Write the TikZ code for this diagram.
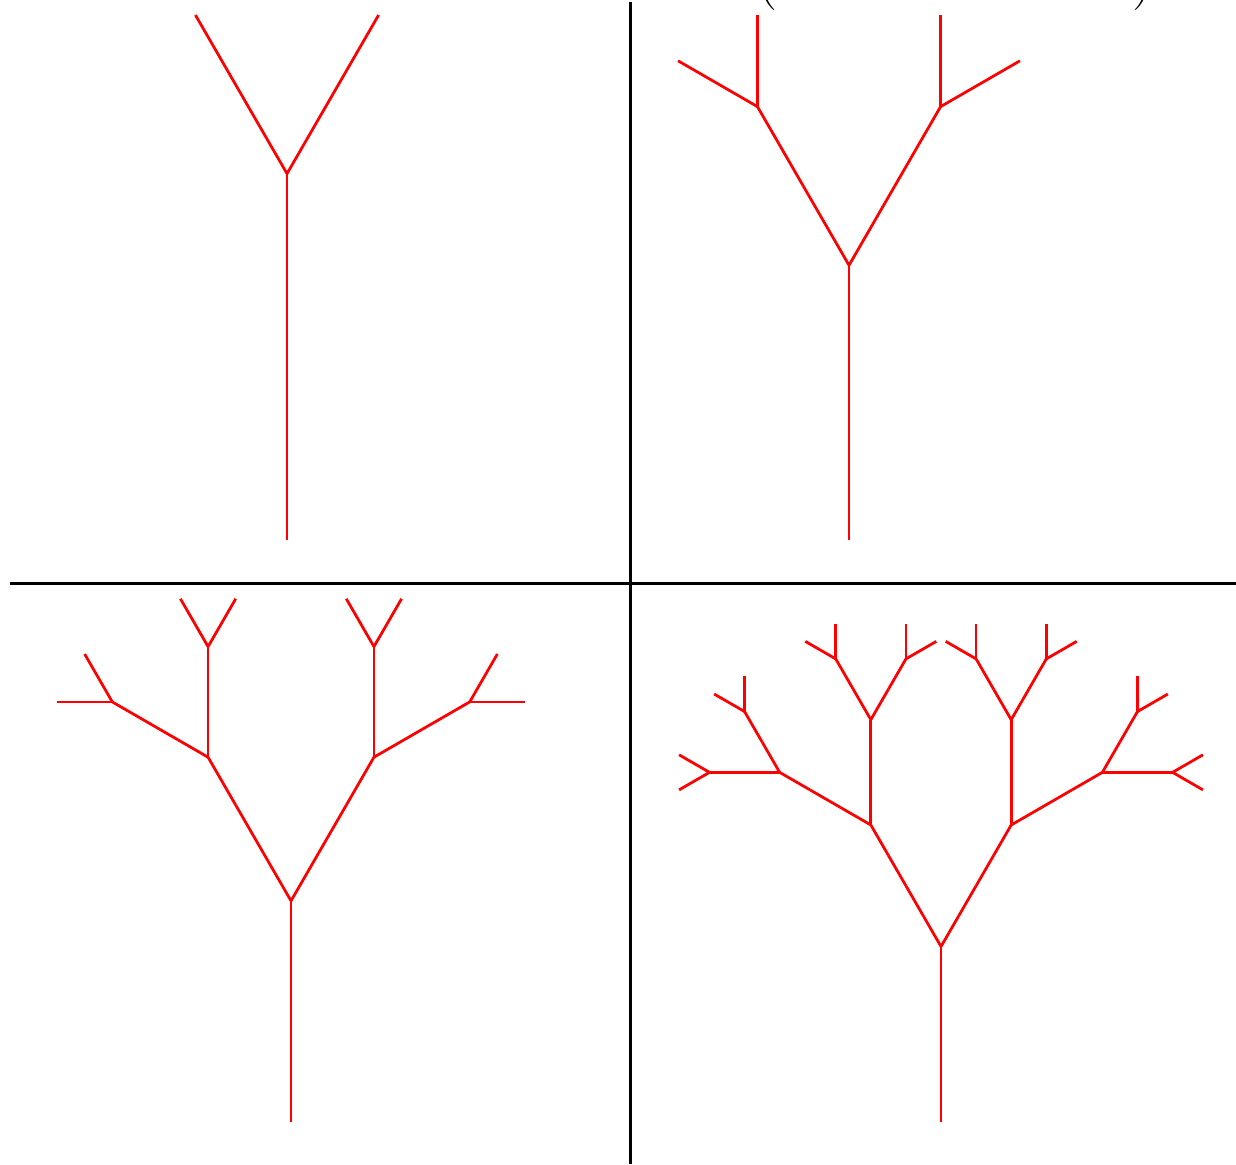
\documentclass[tikz,border=0pt]{standalone}
\usetikzlibrary{positioning}

% one limb of #1+1 unit pieces, then two smaller limbs on top
\newcommand{\limbs}[2]{%
  \begin{scope}[rotate=#2]
    \pgfmathtruncatemacro{\segs}{#1+1}
    \foreach \s in {1,...,\segs}
      \draw[limb] (0,\s-1) -- (0,\s);
    \ifnum#1>0
      \pgfmathtruncatemacro{\lvl}{#1-1}
      \begin{scope}[shift={(0,\segs)}]
        \limbs{\lvl}{30}
        \limbs{\lvl}{-30}
      \end{scope}
    \fi
  \end{scope}}

\begin{document}
\begin{tikzpicture}[
    x=0.02cm, y=-0.02cm,
    limb/.style={draw=red, line width=0.055cm},
    divider/.style={draw=black, line width=0.06cm},
    paren/.style={inner sep=0pt, font=\fontsize{34}{40}\selectfont}
  ]
  \useasboundingbox[fill=white] (0,0) rectangle (1236,1164);

  % panel dividers
  \draw[divider] (630,2) -- (630,1164);
  \draw[divider] (10,583) -- (1236,583);

  % title, cut off by the page
  \node[paren, anchor=south] (lparen) at (767,11) {(};
  \node[paren, anchor=south] (rparen) at (1143,11) {)};

  % depth 1 .. 4
  \begin{scope}[shift={(287,540)}, x=3.664cm, y=3.664cm]
    \limbs{1}{0}
  \end{scope}
  \begin{scope}[shift={(849,540)}, x=1.832cm, y=1.832cm]
    \limbs{2}{0}
  \end{scope}
  \begin{scope}[shift={(291,1122)}, x=1.106cm, y=1.106cm]
    \limbs{3}{0}
  \end{scope}
  \begin{scope}[shift={(941,1122)}, x=0.702cm, y=0.702cm]
    \limbs{4}{0}
  \end{scope}
\end{tikzpicture}
\end{document}
